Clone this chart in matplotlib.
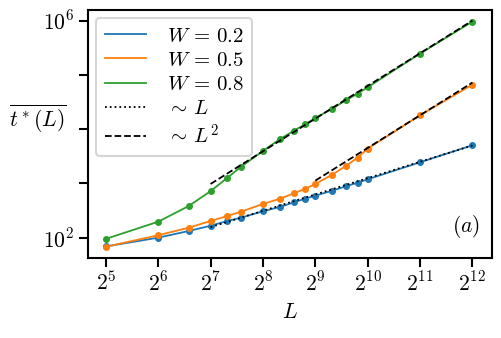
import numpy as np
import matplotlib
matplotlib.use('Agg')
import matplotlib.pyplot as plt

plt.rcParams['mathtext.fontset'] = 'cm'
plt.rcParams['font.family'] = 'DejaVu Serif'

L = [32, 64, 96, 128, 160, 192, 256, 320, 384, 448, 512, 640, 768, 896, 1024, 2048, 4096]
t_w02 = [69, 100, 133, 166, 203, 234, 307, 368, 446, 524, 594, 735, 886, 1032, 1191, 2453, 5046]
t_w05 = [68, 111, 153, 203, 251, 302, 418, 521, 653, 796, 977, 1450, 2100, 2985, 4375, 18050, 66070]
t_w08 = [95, 197, 384, 719, 1271, 2036, 3966, 6513, 9270, 12310, 15880, 23880, 34120, 45100, 59140, 246400, 959000]

# reference power laws: (start L, end L, value at end)
lin_fit = (128, 4096, 5000)
quad_fit_w08 = (128, 4096, 1.0e6)
quad_fit_w05 = (512, 4096, 72000)

fig = plt.figure(figsize=(5.01, 3.38), dpi=100)
ax = fig.add_axes([0.1756, 0.2367, 0.806, 0.734])

for t, c, w in [(t_w02, 'tab:blue', '0.2'), (t_w05, 'tab:orange', '0.5'), (t_w08, 'tab:green', '0.8')]:
    ax.plot(L, t, '-', color=c, lw=1.3, label=rf'$W\,=\,{w}$')
    ax.plot(L, t, 'o', color=c, ms=4)

def power_line(fit, p):
    l0, l1, v1 = fit
    x = np.array([l0, l1])
    return x, v1 * (x / l1) ** p

x, y = power_line(lin_fit, 1)
ax.plot(x, y, ':', color='black', lw=1.3, label=r'$\sim\,L$')
x, y = power_line(quad_fit_w08, 2)
ax.plot(x, y, '--', color='black', lw=1.3, label=r'$\sim\,L^2$')
x, y = power_line(quad_fit_w05, 2)
ax.plot(x, y, '--', color='black', lw=1.3)

ax.set_xscale('log', base=2)
ax.set_yscale('log')
ax.set_xlim(2 ** 4.66, 2 ** 12.37)
ax.set_ylim(10 ** 1.626, 10 ** 6.197)

ax.set_xticks([2 ** k for k in range(5, 13)])
ax.set_xticklabels([f'$2^{{{k}}}$' for k in range(5, 13)])
ax.set_yticks([1e2, 1e3, 1e4, 1e5, 1e6])
ax.set_yticklabels(['$10^2$', '', '', '', '$10^6$'])
ax.minorticks_off()
ax.tick_params(labelsize=15.5, length=6.5, width=1.5)
for s in ax.spines.values():
    s.set_linewidth(1.5)

ax.set_xlabel('$L$', fontsize=15.5)
ax.set_ylabel(r'$\overline{t^*(L)}$', fontsize=15.5, rotation=0, va='center', ha='center')
ax.yaxis.set_label_coords(-0.125, 0.56)

ax.text(0.935, 0.125, '$(a)$', transform=ax.transAxes, fontsize=15.5, ha='center', va='center')

leg = ax.legend(loc='upper left', fontsize=15, handlelength=2.0, labelspacing=0.25,
                borderaxespad=0.4, handletextpad=1.0)
leg.get_frame().set_linewidth(1.5)

fig.savefig('out.png', dpi=100)
